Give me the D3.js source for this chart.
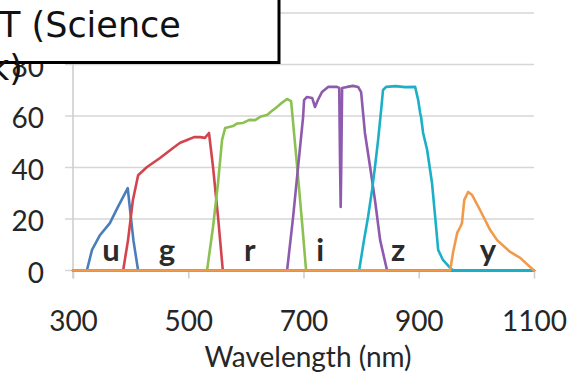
<!DOCTYPE html>
<html>
<head>
<meta charset="utf-8">
<script src="https://cdn.jsdelivr.net/npm/d3@7/dist/d3.min.js"></script>
<style>
  html, body { margin: 0; padding: 0; background: #fff; overflow: hidden; }
  svg { display: block; }
</style>
</head>
<body>
<svg id="chart" width="569" height="375"></svg>
<script>
// Filter transmission curves: [wavelength nm, throughput %]
const uBand = [[300,0],[324,0],[333,8],[347,13.8],[364,18.4],[378,24.7],[395,32],[400,21.5],[405,11.5],[413,0],[1100,0]];
const gBand = [[300,0],[387,0],[395.5,11.8],[404,27.4],[413,37],[428.5,40.2],[451,43.7],[473.6,47.6],[486,49.6],[498,50.7],[510,51.8],[520.5,51.8],[529,51.5],[536,53.4],[543,40.2],[551.7,20.8],[560,0],[1100,0]];
const rBand = [[300,0],[532.6,0],[543,16.9],[551.7,34],[558.7,50.7],[564,55.3],[577.8,56.1],[585,57.1],[595,57.3],[606,58.5],[616,58.4],[626,59.8],[636.8,60.4],[645,61.9],[654,63.5],[663,65.2],[671.5,66.6],[678.5,65.8],[689,40.2],[697.6,18.4],[704.5,0],[1100,0]];
const iBand = [[300,0],[671.5,0],[682,20.8],[690.6,40.2],[699.3,59.6],[701,66.2],[706,67.4],[715,67],[720,63.5],[725,66.2],[732,69.3],[742.7,71.3],[758,71.3],[762,70.9],[763.5,40],[764.5,24.7],[765.5,40],[767,70.9],[775.7,71.3],[786,71.7],[794.8,71.3],[800,69.3],[806.6,53.4],[815.6,40.2],[824,27.4],[833,11.8],[845,0],[1100,0]];
const zBand = [[300,0],[796.5,0],[805,11.8],[812,20.8],[819,31.3],[824,40.2],[829.5,50.7],[834.7,62.3],[838,70.1],[843.4,71.3],[860,71.6],[876,71.2],[893.7,71.3],[899,66.2],[902.4,61.2],[904,59.6],[907.6,53.4],[914.6,46.8],[923,34],[928.5,20.8],[933.7,8],[942,4.1],[954.5,1],[960,0],[1100,0]];
const yBand = [[300,0],[954.5,0],[959.7,7.2],[966.7,14.6],[972,16.9],[975,18.4],[979,27.4],[985.8,30.5],[992.7,29.3],[1006.6,23.4],[1024,15.7],[1036,11.8],[1058.7,7.2],[1076,4.9],[1100,0]];

const bandNames = ["u", "g", "r", "i", "z", "y"];
const bandColors = ["#4a7ebb", "#d2454f", "#8cc152", "#8e5aae", "#1cb0c8", "#f39a4a"];
const bandLabelAt = [366, 463, 607, 729, 864, 1020];

const xTicks = [300, 500, 700, 900, 1100];
const yTicks = [0, 20, 40, 60, 80, 100];
const xTitle = "Wavelength (nm)";
const titleLines = ["T (Science", "k)"];

const svg = d3.select("#chart");
const x = d3.scaleLinear().domain([300, 1100]).range([73, 534]);
const y = d3.scaleLinear().domain([0, 100]).range([270.5, 13]);

const labelFont = "Lato, 'Open Sans', sans-serif";

// horizontal gridlines (extend slightly left of the axis as ticks)
svg.append("g")
  .selectAll("line")
  .data(yTicks)
  .join("line")
  .attr("x1", 65).attr("x2", x(1100))
  .attr("y1", d => y(d)).attr("y2", d => y(d))
  .attr("stroke", "#d6d6d6").attr("stroke-width", 1.6);

// vertical axis line
svg.append("line")
  .attr("x1", x(300)).attr("x2", x(300))
  .attr("y1", y(100)).attr("y2", y(0) + 8)
  .attr("stroke", "#cfcfcf").attr("stroke-width", 1.6);

// y axis labels
const yAxis = svg.append("g")
  .attr("transform", `translate(${x(300)},0)`)
  .call(d3.axisLeft(y).tickValues(yTicks).tickSize(0).tickPadding(29));
yAxis.select(".domain").remove();
yAxis.selectAll("text")
  .attr("font-family", labelFont).attr("font-size", 28)
  .attr("fill", "#262626").attr("dy", "0.42em");

// x axis
const xAxis = svg.append("g")
  .attr("transform", `translate(0,${y(0)})`)
  .call(d3.axisBottom(x).tickValues(xTicks).tickFormat(d3.format("d")).tickSize(8).tickPadding(33));
xAxis.select(".domain").remove();
xAxis.selectAll("line").attr("stroke", "#cfcfcf").attr("stroke-width", 1.6);
xAxis.selectAll("text")
  .attr("font-family", labelFont).attr("font-size", 28)
  .attr("fill", "#262626");

// axis title
svg.append("text")
  .attr("x", 308).attr("y", 367)
  .attr("text-anchor", "middle")
  .attr("font-family", labelFont).attr("font-size", 28)
  .attr("fill", "#262626")
  .text(xTitle);

// band curves
const line = d3.line().x(d => x(d[0])).y(d => y(d[1]));
const bands = [uBand, gBand, rBand, iBand, zBand, yBand];
svg.append("g")
  .selectAll("path")
  .data(bands)
  .join("path")
  .attr("d", line)
  .attr("fill", "none")
  .attr("stroke", (d, i) => bandColors[i])
  .attr("stroke-width", 2.6)
  .attr("stroke-linejoin", "round")
  .attr("stroke-linecap", "round");

// band letters
svg.append("g")
  .selectAll("text")
  .data(bandNames)
  .join("text")
  .attr("x", (d, i) => x(bandLabelAt[i]))
  .attr("y", y(3.5))
  .attr("text-anchor", "middle")
  .attr("font-family", labelFont).attr("font-size", 31).attr("font-weight", 700)
  .attr("fill", "#2b2b2b")
  .text(d => d);

// title box
svg.append("rect")
  .attr("x", -10).attr("y", -10)
  .attr("width", 289).attr("height", 72.5)
  .attr("fill", "#fff").attr("stroke", "#000").attr("stroke-width", 3);
svg.append("text")
  .attr("x", -1).attr("y", 37)
  .attr("font-family", "'DejaVu Sans', Verdana, sans-serif").attr("font-size", 35)
  .attr("fill", "#111")
  .text(titleLines[0]);
svg.append("text")
  .attr("x", 23).attr("y", 80)
  .attr("text-anchor", "end")
  .attr("font-family", "'DejaVu Sans', Verdana, sans-serif").attr("font-size", 35)
  .attr("fill", "#111")
  .text(titleLines[1]);
</script>
</body>
</html>
